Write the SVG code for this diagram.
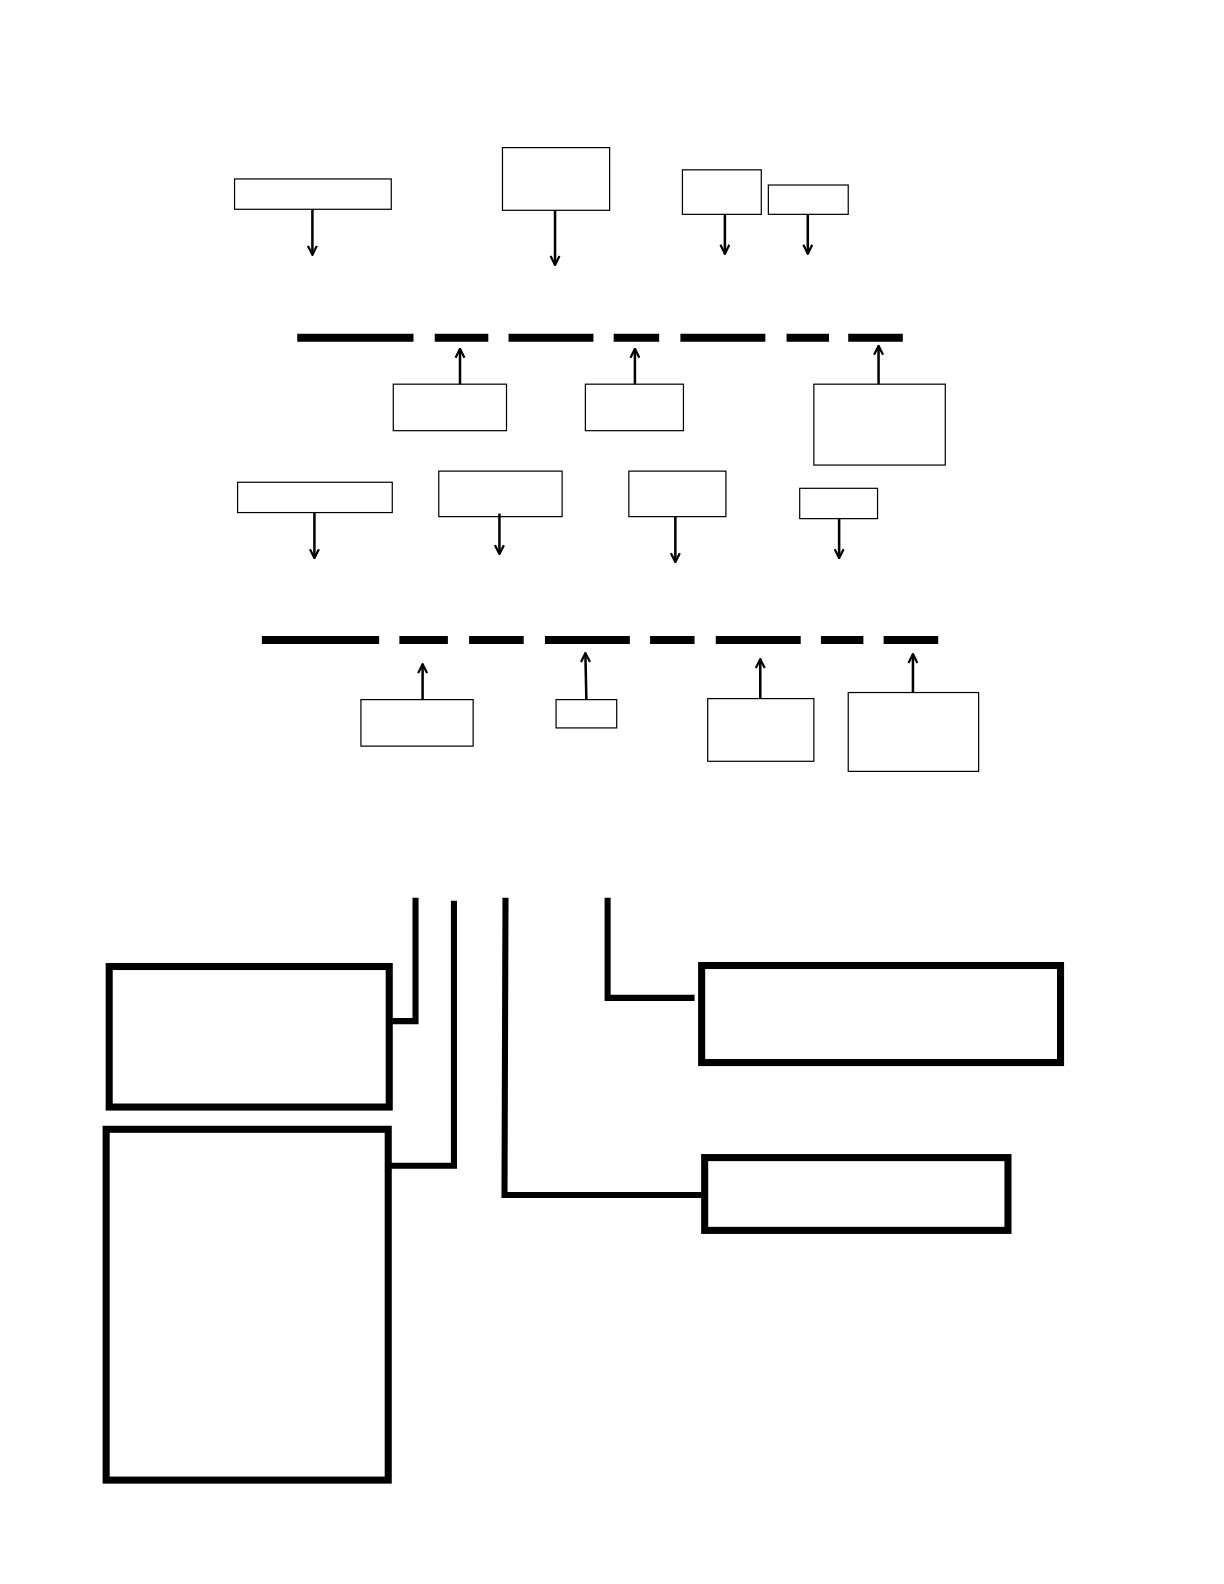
<svg xmlns="http://www.w3.org/2000/svg" width="1224" height="1584" viewBox="0 0 1224 1584">
<style>
.box{fill:#fff;stroke:#000;stroke-width:1.2}
.bold{fill:#fff;stroke:#000;stroke-width:7}
.arr{fill:none;stroke:#000;stroke-width:2.5;marker-end:url(#ah)}
.dash{fill:none;stroke:#000;stroke-width:8}
.conn{fill:none;stroke:#000;stroke-width:6;stroke-linejoin:miter}
</style>
<defs>
<marker id="ah" viewBox="0 0 10 10" refX="9" refY="5" markerUnits="userSpaceOnUse" markerWidth="11" markerHeight="11" orient="auto">
<path d="M1,1 L9,5 L1,9" fill="none" stroke="#000" stroke-width="2"/>
</marker>
</defs>
<rect width="1224" height="1584" fill="#fff"/>
<g id="diagram" transform="scale(1.011)">
<g id="n1"><rect class="box" x="232" y="177" width="155" height="30"/></g>
<g id="n2"><rect class="box" x="497" y="146" width="106" height="62"/></g>
<g id="n3"><rect class="box" x="675" y="168" width="78" height="44"/></g>
<g id="n4"><rect class="box" x="760" y="183" width="79" height="29"/></g>
<g id="line1"><path class="dash" d="M294,334H409M430,334H483M503,334H587M607,334H652M673,334H757M778,334H820M839,334H893"/></g>
<g id="n5"><rect class="box" x="389" y="380" width="112" height="46"/></g>
<g id="n6"><rect class="box" x="579" y="380" width="97" height="46"/></g>
<g id="n7"><rect class="box" x="805" y="380" width="130" height="80"/></g>
<g id="n8"><rect class="box" x="235" y="477" width="153" height="30"/></g>
<g id="n9"><rect class="box" x="434" y="466" width="122" height="45"/></g>
<g id="n10"><rect class="box" x="622" y="466" width="96" height="45"/></g>
<g id="n11"><rect class="box" x="791" y="483" width="77" height="30"/></g>
<g id="line2"><path class="dash" d="M259,633H375M395,633H443M464,633H518M539,633H623M643,633H687M708,633H792M812,633H854M874,633H928"/></g>
<g id="n12"><rect class="box" x="357" y="692" width="111" height="46"/></g>
<g id="n13"><rect class="box" x="550" y="692" width="60" height="28"/></g>
<g id="n14"><rect class="box" x="700" y="691" width="105" height="62"/></g>
<g id="n15"><rect class="box" x="839" y="685" width="129" height="78"/></g>
<g id="n16"><rect class="bold" x="108" y="956" width="277" height="139"/></g>
<g id="n17"><rect class="bold" x="105" y="1117" width="279" height="347"/></g>
<g id="n18"><rect class="bold" x="694" y="955" width="355" height="96"/></g>
<g id="n19"><rect class="bold" x="697" y="1145" width="300" height="72"/></g>
<g id="connectors">
<line class="arr" x1="309" y1="207" x2="309" y2="252"/>
<line class="arr" x1="549" y1="208" x2="549" y2="262"/>
<line class="arr" x1="717" y1="212" x2="717" y2="251"/>
<line class="arr" x1="799" y1="212" x2="799" y2="251"/>
<line class="arr" x1="455" y1="380" x2="455" y2="345"/>
<line class="arr" x1="628" y1="380" x2="628" y2="345"/>
<line class="arr" x1="869" y1="380" x2="869" y2="342"/>
<line class="arr" x1="311" y1="507" x2="311" y2="552"/>
<line class="arr" x1="494" y1="508" x2="494" y2="548"/>
<line class="arr" x1="668" y1="511" x2="668" y2="556"/>
<line class="arr" x1="830" y1="513" x2="830" y2="552"/>
<line class="arr" x1="418" y1="692" x2="418" y2="657"/>
<line class="arr" x1="580" y1="692" x2="579" y2="646"/>
<line class="arr" x1="752" y1="691" x2="752" y2="652"/>
<line class="arr" x1="903" y1="685" x2="903" y2="647"/>
<path class="conn" d="M411,888V1010H383"/>
<path class="conn" d="M449,891V1153H386"/>
<path class="conn" d="M500,888L499,1182H694"/>
<path class="conn" d="M601,888V987H687"/>
</g>
</g>
</svg>
